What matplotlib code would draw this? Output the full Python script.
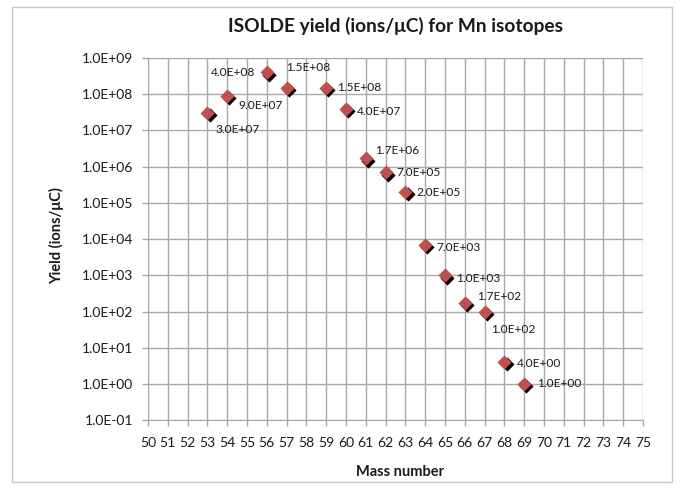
import matplotlib
matplotlib.use('Agg')
import matplotlib.pyplot as plt
from matplotlib.patches import Rectangle
from matplotlib.ticker import FixedLocator, FuncFormatter, NullLocator
import matplotlib.transforms as mtransforms

plt.rcParams['font.family'] = ['Lato', 'DejaVu Sans']

# Data
MASSES = [53, 54, 56, 57, 59, 60, 61, 62, 63, 64, 65, 66, 67, 68, 69]
YIELDS = [3.0e7, 9.0e7, 4.0e8, 1.5e8, 1.5e8, 4.0e7, 1.7e6, 7.0e5, 2.0e5,
          7.0e3, 1.0e3, 1.7e2, 1.0e2, 4.0e0, 1.0e0]
LABELS = ['3.0E+07', '9.0E+07', '4.0E+08', '1.5E+08', '1.5E+08', '4.0E+07',
          '1.7E+06', '7.0E+05', '2.0E+05', '7.0E+03', '1.0E+03', '1.7E+02',
          '1.0E+02', '4.0E+00', '1.0E+00']
# label offsets in points (dx, dy, horizontal alignment)
LABEL_POS = [(6, -12, 'left'), (8, -7, 'left'), (-8, 0, 'right'),
             (0, 15, 'left'), (8, 0, 'left'), (8, -2, 'left'),
             (7, 6, 'left'), (8, 0, 'left'), (8, 0, 'left'),
             (8, -2, 'left'), (8, -2, 'left'), (9, 5, 'left'),
             (5, -13, 'left'), (9, -1, 'left'), (9, 0, 'left')]
X_TICKS = list(range(50, 76))
Y_TICKS = [10.0 ** e for e in range(-1, 10)]

RED = '#C0504D'
GRID = '#A8A8A8'
TEXT = '#1A1A1A'

fig = plt.figure(figsize=(6.8, 4.88), dpi=100)
ax = fig.add_axes([0.2176, 0.139, 0.728, 0.742])

fig.patches.append(Rectangle((0.0176, 0.012), 0.970, 0.974, transform=fig.transFigure,
                             fill=False, edgecolor='#C8C8C8', linewidth=1.0))

shadow = mtransforms.offset_copy(ax.transData, fig=fig, x=1.6, y=-1.6, units='points')
ax.scatter(MASSES, YIELDS, marker='D', s=52, color='black', transform=shadow,
           zorder=3, linewidths=0)
ax.scatter(MASSES, YIELDS, marker='D', s=52, color=RED, zorder=4, linewidths=0)

for m, v, lab, (dx, dy, ha) in zip(MASSES, YIELDS, LABELS, LABEL_POS):
    ax.annotate(lab, (m, v), xytext=(dx, dy), textcoords='offset points',
                ha=ha, va='center', fontsize=8.6, color=TEXT)

ax.set_yscale('log')
ax.set_xlim(50, 75)
ax.set_ylim(0.1, 1e9)
ax.xaxis.set_major_locator(FixedLocator(X_TICKS))
ax.yaxis.set_major_locator(FixedLocator(Y_TICKS))
ax.yaxis.set_minor_locator(NullLocator())
ax.yaxis.set_major_formatter(FuncFormatter(lambda v, p: '%.1E' % v))
ax.xaxis.set_major_formatter(FuncFormatter(lambda v, p: '%d' % v))

ax.grid(True, color=GRID, linewidth=1.0)
ax.set_axisbelow(True)
for side in ax.spines:
    ax.spines[side].set_color(GRID)
ax.spines['top'].set_visible(False)
ax.spines['right'].set_visible(False)
ax.tick_params(axis='both', colors=GRID, length=4, width=1.0, labelcolor=TEXT,
               labelsize=10)
ax.tick_params(axis='x', pad=8)
ax.tick_params(axis='y', pad=6.5)

ax.set_title('ISOLDE yield (ions/\u03bcC) for Mn isotopes', fontsize=13.8,
             fontweight='bold', pad=19, color=TEXT)
fig.text(400 / 680, 1 - 472 / 488, 'Mass number', ha='center', va='center',
         fontsize=10.5, fontweight='bold', color=TEXT)
fig.text(57 / 680, 1 - 236 / 488, 'Yield (ions/\u03bcC)', ha='center', va='center',
         rotation=90, fontsize=10.5, fontweight='bold', color=TEXT)

fig.savefig('out.png', dpi=100)
